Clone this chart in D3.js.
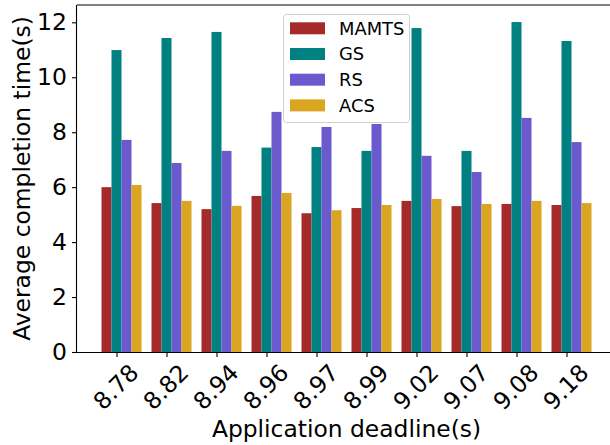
<!DOCTYPE html>
<html>
<head>
<meta charset="utf-8">
<script src="https://cdn.jsdelivr.net/npm/d3@7"></script>
<style>
  body { margin: 0; background: #fff; }
  svg { display: block; font-family: "DejaVu Sans", sans-serif; }
</style>
</head>
<body>
<div id="chart"></div>
<script>
// data
const deadlines = ["8.78", "8.82", "8.94", "8.96", "8.97", "8.99", "9.02", "9.07", "9.08", "9.18"];
const mamts = [6.00, 5.42, 5.20, 5.68, 5.05, 5.24, 5.50, 5.31, 5.39, 5.35];
const gs    = [10.99, 11.43, 11.65, 7.44, 7.46, 7.32, 11.79, 7.32, 12.01, 11.32];
const rs    = [7.72, 6.88, 7.32, 8.74, 8.19, 8.30, 7.14, 6.55, 8.52, 7.64];
const acs   = [6.08, 5.50, 5.32, 5.79, 5.16, 5.35, 5.57, 5.39, 5.50, 5.42];
const seriesNames = ["MAMTS", "GS", "RS", "ACS"];
const yTicks = [0, 2, 4, 6, 8, 10, 12];

const series = [mamts, gs, rs, acs];
const colors = ["#a52a2a", "#008080", "#6a5acd", "#daa520"];

const width = 610, height = 445;
const plotL = 77, plotR = 616, plotT = 5, plotB = 352;
const barW = 0.2;

const svg = d3.select("#chart").append("svg")
  .attr("width", width)
  .attr("height", height);

const x = d3.scaleLinear().domain([-0.79, 9.99]).range([plotL, plotR]);
const y = d3.scaleLinear().domain([0, 12.63]).range([plotB, plotT]);

// bars
series.forEach(function (vals, j) {
  svg.append("g")
    .selectAll("rect")
    .data(vals)
    .enter().append("rect")
    .attr("x", function (d, i) { return x(i + (j - 1) * barW - barW / 2); })
    .attr("width", x(barW) - x(0))
    .attr("y", function (d) { return y(d); })
    .attr("height", function (d) { return y(0) - y(d); })
    .attr("fill", colors[j]);
});

// axes
const xAxis = svg.append("g")
  .attr("transform", "translate(0," + plotB + ")")
  .call(d3.axisBottom(x)
    .tickValues(d3.range(deadlines.length))
    .tickFormat(function (i) { return deadlines[i]; })
    .tickSize(5).tickPadding(4));

xAxis.attr("font-family", null).attr("font-size", null);
xAxis.select(".domain").attr("stroke", "#000").attr("stroke-width", 1.1)
  .attr("d", "M" + plotL + ",0.5H" + plotR);
xAxis.selectAll(".tick line").attr("stroke", "#000").attr("stroke-width", 1.1);
xAxis.selectAll(".tick text")
  .style("font-size", "23.5px")
  .attr("fill", "#000")
  .attr("text-anchor", "middle")
  .attr("dominant-baseline", "central")
  .attr("dy", null)
  .attr("y", null)
  .attr("transform", "translate(-1,35) rotate(-45)");

const yAxis = svg.append("g")
  .attr("transform", "translate(" + plotL + ",0)")
  .call(d3.axisLeft(y).tickValues(yTicks).tickSize(5).tickPadding(5));

yAxis.attr("font-family", null).attr("font-size", null);
yAxis.select(".domain").attr("stroke", "#000").attr("stroke-width", 1.1)
  .attr("d", "M-0.5," + plotB + "V" + plotT);
yAxis.selectAll(".tick line").attr("stroke", "#000").attr("stroke-width", 1.1);
yAxis.selectAll(".tick text").style("font-size", "23.5px").attr("fill", "#000");

// top spine
svg.append("line")
  .attr("x1", plotL).attr("x2", plotR)
  .attr("y1", plotT).attr("y2", plotT)
  .attr("stroke", "#000").attr("stroke-width", 1.1);

// axis labels
svg.append("text")
  .attr("x", (plotL + plotR) / 2)
  .attr("y", 437)
  .attr("text-anchor", "middle")
  .style("font-size", "23.4px")
  .text("Application deadline(s)");

svg.append("text")
  .attr("transform", "translate(30," + (plotT + plotB) / 2 + ") rotate(-90)")
  .attr("text-anchor", "middle")
  .style("font-size", "23.4px")
  .text("Average completion time(s)");

// legend
const legend = svg.append("g");
legend.append("rect")
  .attr("x", 283.5).attr("y", 14.5)
  .attr("width", 126).attr("height", 108)
  .attr("rx", 3)
  .attr("fill", "#fff").attr("fill-opacity", 0.8)
  .attr("stroke", "#d0d0d0");

const rows = legend.selectAll(".item")
  .data(seriesNames)
  .enter().append("g")
  .attr("class", "item")
  .attr("transform", function (d, i) { return "translate(290," + (28.3 + i * 25.7) + ")"; });

rows.append("rect")
  .attr("x", 0).attr("y", -6)
  .attr("width", 35).attr("height", 12)
  .attr("fill", function (d, i) { return colors[i]; });

rows.append("text")
  .attr("x", 49)
  .attr("dy", "0.35em")
  .style("font-size", "17.9px")
  .text(function (d) { return d; });
</script>
</body>
</html>
